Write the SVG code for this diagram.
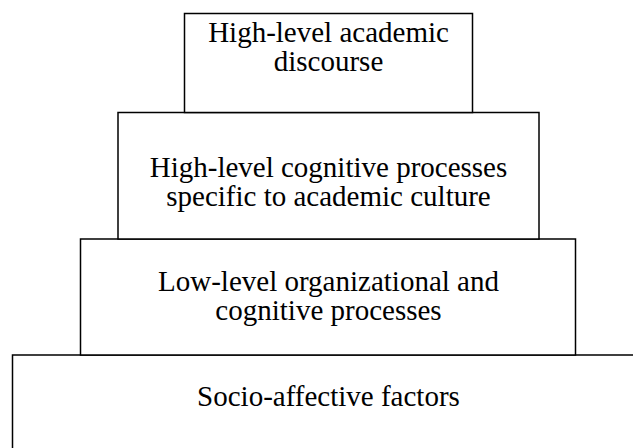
<svg xmlns="http://www.w3.org/2000/svg" width="633" height="448" viewBox="0 0 633 448">
<rect width="633" height="448" fill="#fff"/>
<g id="level4">
<rect x="12.5" y="355" width="640" height="110" fill="#fff" stroke="#000" stroke-width="1.5"/>
<text font-size="29" font-family="'Liberation Serif', serif" text-anchor="middle" x="328.5" y="406">Socio-affective factors</text>
</g>
<g id="level3">
<rect x="80.5" y="239" width="495" height="116" fill="#fff" stroke="#000" stroke-width="1.5"/>
<text font-size="29" font-family="'Liberation Serif', serif" text-anchor="middle" x="328.5" y="291">Low-level organizational and</text>
<text font-size="29" font-family="'Liberation Serif', serif" text-anchor="middle" x="328.5" y="320">cognitive processes</text>
</g>
<g id="level2">
<rect x="118" y="112.5" width="421" height="126.5" fill="#fff" stroke="#000" stroke-width="1.5"/>
<text font-size="29" font-family="'Liberation Serif', serif" text-anchor="middle" x="328.5" y="177">High-level cognitive processes</text>
<text font-size="29" font-family="'Liberation Serif', serif" text-anchor="middle" x="328.5" y="206">specific to academic culture</text>
</g>
<g id="level1">
<rect x="184.5" y="13.5" width="288" height="99" fill="#fff" stroke="#000" stroke-width="1.5"/>
<text font-size="29" font-family="'Liberation Serif', serif" text-anchor="middle" x="328.5" y="42">High-level academic</text>
<text font-size="29" font-family="'Liberation Serif', serif" text-anchor="middle" x="328.5" y="71">discourse</text>
</g>
<g id="connectors"></g>
</svg>
